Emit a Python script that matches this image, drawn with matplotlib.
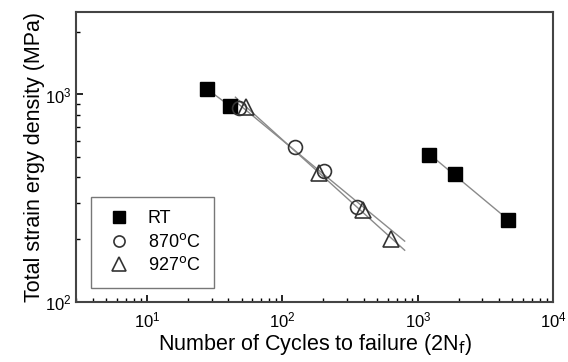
import numpy as np
import matplotlib.pyplot as plt

plt.rcParams['font.family'] = ['Liberation Sans', 'DejaVu Sans']

# data
rt_cycles = [28, 41, 1220, 1880, 4600]
rt_energy = [1058, 880, 509, 415, 249]
c870_cycles = [48, 123, 203, 358]
c870_energy = [865, 559, 430, 288]
c927_cycles = [54, 185, 393, 632]
c927_energy = [870, 418, 278, 200]

# ranges of the fitted lines
rt_low_range = [28, 45]
rt_high_range = [1220, 4600]
c870_range = [45, 800]
c927_range = [45, 800]


def fit_line(x, y, xr):
    ''' power law fit, returns points to draw '''
    p = np.polyfit(np.log10(x), np.log10(y), 1)
    xs = np.array(xr, dtype=float)
    return xs, 10 ** np.polyval(p, np.log10(xs))


fig, ax = plt.subplots(figsize=(5.68, 3.62), dpi=100)
fig.subplots_adjust(left=0.134, right=0.974, top=0.967, bottom=0.166)

line_kw = dict(color='#8a8a8a', lw=1.0, zorder=1)
ax.plot(*fit_line(rt_cycles[:2], rt_energy[:2], rt_low_range), **line_kw)
ax.plot(*fit_line(rt_cycles[2:], rt_energy[2:], rt_high_range), **line_kw)
ax.plot(*fit_line(c870_cycles, c870_energy, c870_range), **line_kw)
ax.plot(*fit_line(c927_cycles, c927_energy, c927_range), **line_kw)

ax.plot(rt_cycles, rt_energy, 's', ms=10, color='black', mec='black', ls='none', label='RT', zorder=3)
ax.plot(c870_cycles, c870_energy, 'o', ms=10, mfc='none', mec='#333333', mew=1.2, ls='none', label='870$^{\\rm o}$C', zorder=3)
ax.plot(c927_cycles, c927_energy, '^', ms=12, mfc='none', mec='#333333', mew=1.2, ls='none', label='927$^{\\rm o}$C', zorder=3)

ax.set_xscale('log')
ax.set_yscale('log')
ax.set_xlim(3, 1e4)
ax.set_ylim(100, 2500)

ax.set_xlabel('Number of Cycles to failure (2N$_{\\rm f}$)', fontsize=15.5, labelpad=1)
ax.set_ylabel('Total strain ergy density (MPa)', fontsize=15.5, labelpad=0)
ax.tick_params(which='both', direction='in', top=False, right=False, labelsize=12)
ax.tick_params(axis='x', which='major', pad=6)
ax.tick_params(which='major', length=5, width=1.2)
ax.tick_params(which='minor', length=3, width=1)
for s in ax.spines.values():
    s.set_linewidth(1.5)
    s.set_color('#444444')

leg = ax.legend(loc='lower left', bbox_to_anchor=(0.02, 0.03), fontsize=13,
                frameon=True, fancybox=False, edgecolor='#555555',
                borderpad=0.75, labelspacing=0.3, handletextpad=0.8,
                handlelength=1.6, borderaxespad=0.3, markerscale=0.8)
leg.get_frame().set_linewidth(1.0)

plt.savefig('out.png', dpi=100)
